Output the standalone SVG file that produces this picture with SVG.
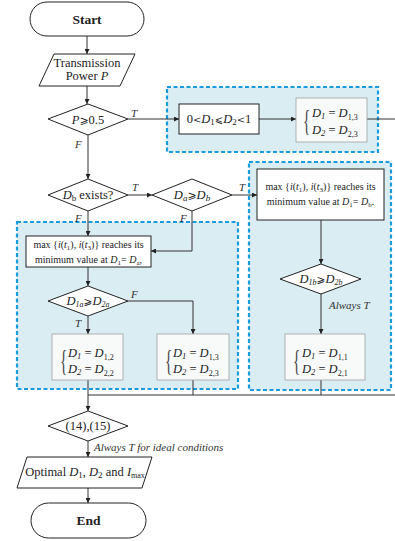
<svg xmlns="http://www.w3.org/2000/svg" width="395" height="541" viewBox="0 0 395 541" font-family="'Liberation Serif', 'Times New Roman', serif">
<style>
  .ln{fill:none;stroke:#333;stroke-width:1}
  .sh{fill:#fff;stroke:#222;stroke-width:1}
  .res{fill:#f8f9f9;stroke:#a0a0a0;stroke-width:0.8}
  .grp{fill:#d9edf2;stroke:#1a9be0;stroke-width:2.2;stroke-dasharray:4 2.5}
  text{font-family:"Liberation Serif","Times New Roman",serif;fill:#222}
  .m{font-size:12.5px;text-anchor:middle}
  .s{font-size:10px}
  .i{font-style:italic}
  .lb{font-size:11px;font-style:italic;fill:#333}
  .b{font-weight:bold;font-size:13.5px;text-anchor:middle}
  .eq{font-size:12.5px;font-style:italic}
  .br{font-size:30px;fill:#444}
  .sym{font-family:"DejaVu Serif","DejaVu Sans",serif;font-style:normal}
</style>
<defs>
  <marker id="ah" viewBox="0 0 6 6" refX="6" refY="3" markerWidth="5" markerHeight="5" orient="auto" markerUnits="userSpaceOnUse">
    <path d="M0,0 L6,3 L0,6 z" fill="#222"/>
  </marker>
</defs>

<!-- groups (dashed) -->
<rect class="grp" x="167" y="87" width="211" height="65"/>
<rect class="grp" x="249" y="162" width="142" height="228"/>
<rect class="grp" x="17" y="222" width="221" height="167"/>

<g id="connectors">
  <path class="ln" d="M87,36 V54" marker-end="url(#ah)"/>
  <path class="ln" d="M87,86 V104" marker-end="url(#ah)"/>
  <path class="ln" d="M128,119 H179" marker-end="url(#ah)"/>
  <path class="ln" d="M259,119 H296" marker-end="url(#ah)"/>
  <path class="ln" d="M367,119 H395"/>
  <path class="ln" d="M88,135 V179" marker-end="url(#ah)"/>
  <path class="ln" d="M128,195 H152" marker-end="url(#ah)"/>
  <path class="ln" d="M232,195 H257" marker-end="url(#ah)"/>
  <path class="ln" d="M88,211 V236" marker-end="url(#ah)"/>
  <path class="ln" d="M192,211 V251 H151" marker-end="url(#ah)"/>
  <path class="ln" d="M88,267 V286" marker-end="url(#ah)"/>
  <path class="ln" d="M128,301 H193 V334" marker-end="url(#ah)"/>
  <path class="ln" d="M88,316 V334" marker-end="url(#ah)"/>
  <path class="ln" d="M321,220 V264" marker-end="url(#ah)"/>
  <path class="ln" d="M321,294 V334" marker-end="url(#ah)"/>
  <path class="ln" d="M88,380 V411" marker-end="url(#ah)"/>
  <path class="ln" d="M193,380 V395"/>
  <path class="ln" d="M321,380 V395"/>
  <path class="ln" d="M88,395 H395"/>
  <path class="ln" d="M88,441 V457" marker-end="url(#ah)"/>
  <path class="ln" d="M88,488 V503" marker-end="url(#ah)"/>
  <text class="lb" x="131" y="117">T</text>
  <text class="lb" x="75" y="148">F</text>
  <text class="lb" x="132" y="191">T</text>
  <text class="lb" x="239" y="191">T</text>
  <text class="lb" x="75" y="222">F</text>
  <text class="lb" x="180" y="222">F</text>
  <text class="lb" x="131" y="298">F</text>
  <text class="lb" x="75" y="327">T</text>
  <text class="lb" x="329" y="309">Always T</text>
  <text class="lb" x="94" y="451">Always T for ideal conditions</text>
</g>

<g id="start">
  <rect class="sh" x="30" y="2" width="114" height="34" rx="17"/>
  <text class="b" x="87" y="24">Start</text>
</g>
<g id="power">
  <path class="sh" d="M54,54 H135 L120,86 H39 Z"/>
  <text class="m" x="87" y="67">Transmission</text>
  <text class="m" x="87" y="80">Power <tspan class="i">P</tspan></text>
</g>
<g id="p05">
  <path class="sh" d="M48,119 L88,104 L128,119 L88,135 Z"/>
  <text class="m" x="88" y="124"><tspan class="i">P</tspan><tspan class="sym" font-size="11">⩾</tspan>0.5</text>
</g>
<g id="range">
  <rect class="sh" x="179" y="104" width="80" height="30"/>
  <text class="m" x="219" y="123">0<tspan class="sym" font-size="10">&lt;</tspan><tspan class="i">D</tspan><tspan font-size="9" dy="2">1</tspan><tspan class="sym" font-size="10" dy="-2">⩽</tspan><tspan class="i">D</tspan><tspan font-size="9" dy="2">2</tspan><tspan class="sym" font-size="10" dy="-2">&lt;</tspan>1</text>
</g>
<g id="res13top">
  <rect class="res" x="296" y="98" width="71" height="44"/>
  <text class="br" transform="translate(303,130) scale(0.5,1)">{</text>
  <text class="eq" x="312" y="117">D<tspan font-size="8.5" dy="2">1</tspan><tspan font-style="normal" dy="-2"> = </tspan>D<tspan font-size="8" font-style="normal" dy="3">1,3</tspan></text>
  <text class="eq" x="312" y="134">D<tspan font-size="8.5" dy="2">2</tspan><tspan font-style="normal" dy="-2"> = </tspan>D<tspan font-size="8" font-style="normal" dy="3">2,3</tspan></text>
</g>
<g id="dbexists">
  <path class="sh" d="M48,195 L88,179 L128,195 L88,211 Z"/>
  <text class="m" x="88" y="199"><tspan class="i">D</tspan><tspan font-size="9" dy="2">b</tspan><tspan dy="-2"> exists?</tspan></text>
</g>
<g id="dadb">
  <path class="sh" d="M152,195 L192,179 L232,195 L192,211 Z"/>
  <text class="m i" x="192" y="199">D<tspan font-size="9" dy="2">a</tspan><tspan class="sym" font-size="11" dy="-2">⩾</tspan>D<tspan font-size="9" dy="2">b</tspan></text>
</g>
<g id="maxb">
  <rect class="sh" x="257" y="169" width="127" height="51"/>
  <text class="s" x="320.5" y="190" text-anchor="middle">max {<tspan class="i">i</tspan>(<tspan class="i">t</tspan><tspan font-size="7" dy="2">1</tspan><tspan dy="-2">), </tspan><tspan class="i">i</tspan>(<tspan class="i">t</tspan><tspan font-size="7" dy="2">3</tspan><tspan dy="-2">)} reaches its</tspan></text>
  <text class="s" x="320.5" y="205" text-anchor="middle">minimum value at <tspan class="i">D</tspan><tspan font-size="7" dy="2">1</tspan><tspan dy="-2">= </tspan><tspan class="i">D</tspan><tspan font-size="7" dy="2">b</tspan><tspan dy="-2">.</tspan></text>
</g>
<g id="d1bd2b">
  <path class="sh" d="M280,279 L321,264 L361,279 L321,294 Z"/>
  <text class="m i" x="321" y="283" font-size="11.5">D<tspan font-size="8" dy="2">1b</tspan><tspan class="sym" font-size="10.5" dy="-2">⩾</tspan>D<tspan font-size="8" dy="2">2b</tspan></text>
</g>
<g id="res11">
  <rect class="res" x="285" y="334" width="80" height="46"/>
  <text class="br" transform="translate(293,370) scale(0.5,1)">{</text>
  <text class="eq" x="302" y="357">D<tspan font-size="8.5" dy="2">1</tspan><tspan font-style="normal" dy="-2"> = </tspan>D<tspan font-size="8" font-style="normal" dy="3">1,1</tspan></text>
  <text class="eq" x="302" y="373">D<tspan font-size="8.5" dy="2">2</tspan><tspan font-style="normal" dy="-2"> = </tspan>D<tspan font-size="8" font-style="normal" dy="3">2,1</tspan></text>
</g>
<g id="maxa">
  <rect class="sh" x="26" y="236" width="125" height="31"/>
  <text class="s" x="88.5" y="248" text-anchor="middle">max {<tspan class="i">i</tspan>(<tspan class="i">t</tspan><tspan font-size="7" dy="2">1</tspan><tspan dy="-2">), </tspan><tspan class="i">i</tspan>(<tspan class="i">t</tspan><tspan font-size="7" dy="2">3</tspan><tspan dy="-2">)} reaches its</tspan></text>
  <text class="s" x="88.5" y="263" text-anchor="middle">minimum value at <tspan class="i">D</tspan><tspan font-size="7" dy="2">1</tspan><tspan dy="-2">= </tspan><tspan class="i">D</tspan><tspan font-size="7" dy="2">a</tspan><tspan dy="-2">,</tspan></text>
</g>
<g id="d1ad2a">
  <path class="sh" d="M48,301 L88,286 L128,301 L88,316 Z"/>
  <text class="m i" x="88" y="305" font-size="11.5">D<tspan font-size="8" dy="2">1a</tspan><tspan class="sym" font-size="10.5" dy="-2">⩾</tspan>D<tspan font-size="8" dy="2">2a</tspan></text>
</g>
<g id="res12">
  <rect class="res" x="52" y="334" width="71" height="46"/>
  <text class="br" transform="translate(60,370) scale(0.5,1)">{</text>
  <text class="eq" x="68" y="357">D<tspan font-size="8.5" dy="2">1</tspan><tspan font-style="normal" dy="-2"> = </tspan>D<tspan font-size="8" font-style="normal" dy="3">1,2</tspan></text>
  <text class="eq" x="68" y="373">D<tspan font-size="8.5" dy="2">2</tspan><tspan font-style="normal" dy="-2"> = </tspan>D<tspan font-size="8" font-style="normal" dy="3">2,2</tspan></text>
</g>
<g id="res13">
  <rect class="res" x="157" y="334" width="72" height="46"/>
  <text class="br" transform="translate(165,370) scale(0.5,1)">{</text>
  <text class="eq" x="173" y="357">D<tspan font-size="8.5" dy="2">1</tspan><tspan font-style="normal" dy="-2"> = </tspan>D<tspan font-size="8" font-style="normal" dy="3">1,3</tspan></text>
  <text class="eq" x="173" y="373">D<tspan font-size="8.5" dy="2">2</tspan><tspan font-style="normal" dy="-2"> = </tspan>D<tspan font-size="8" font-style="normal" dy="3">2,3</tspan></text>
</g>
<g id="cond">
  <path class="sh" d="M48,426 L88,411 L128,426 L88,441 Z"/>
  <text class="m" x="88" y="430">(14),(15)</text>
</g>
<g id="optimal">
  <path class="sh" d="M27,457 H152 L142,488 H17 Z"/>
  <text class="m" x="85" y="476">Optimal <tspan class="i">D</tspan><tspan font-size="9" dy="2">1</tspan><tspan dy="-2">, </tspan><tspan class="i">D</tspan><tspan font-size="9" dy="2">2</tspan><tspan dy="-2"> and </tspan><tspan class="i">I</tspan><tspan font-size="8" dy="2">max</tspan></text>
</g>
<g id="end">
  <rect class="sh" x="31" y="503" width="115" height="35" rx="17.5"/>
  <text class="b" x="88.5" y="525">End</text>
</g>
</svg>
